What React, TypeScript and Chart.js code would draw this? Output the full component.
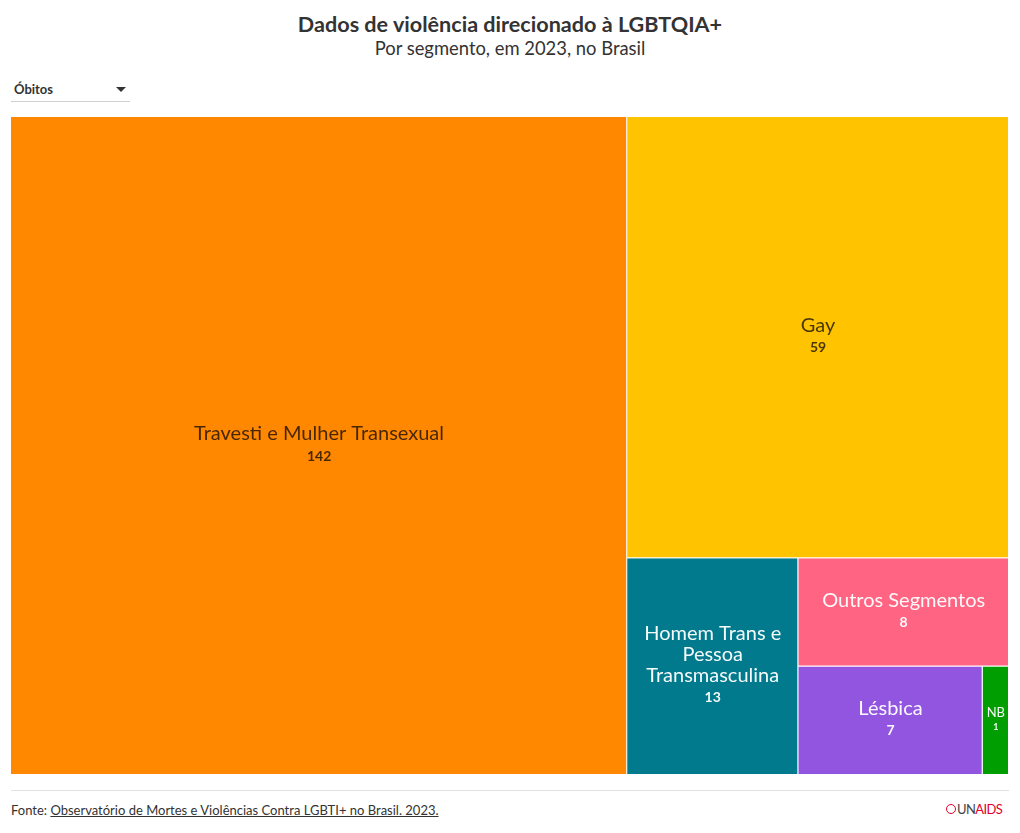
import React, { useEffect, useRef } from 'react';
import { Chart, registerables, DatasetController } from 'chart.js';

Chart.register(...registerables);

const categories: string[] = [
  'Travesti e Mulher Transexual',
  'Gay',
  'Homem Trans e Pessoa Transmasculina',
  'Outros Segmentos',
  'Lésbica',
  'NB',
];
const values: number[] = [142, 59, 13, 8, 7, 1];
const cellColors: string[] = ['#FF8800', '#FFC300', '#007A8C', '#FF6482', '#9155E0', '#009E00'];
const textColors: string[] = [
  'rgba(0,0,0,0.72)',
  'rgba(0,0,0,0.72)',
  'rgba(255,255,255,0.96)',
  'rgba(255,255,255,0.96)',
  'rgba(255,255,255,0.96)',
  'rgba(255,255,255,0.96)',
];

const FONT = 'Lato, "Noto Sans", sans-serif';

type R = { x0: number; y0: number; x1: number; y1: number };

function squarify(vals: number[], W: number, H: number): R[] {
  const total = vals.reduce((a, b) => a + b, 0);
  const k = (W * H) / total;
  const areas = vals.map((v) => v * k);
  const rects: R[] = [];
  let x = 0, y = 0, w = W, h = H, i = 0;
  const sum = (r: number[]) => r.reduce((a, b) => a + b, 0);
  while (i < areas.length) {
    const side = Math.min(w, h);
    const worst = (r: number[]) => {
      const s = sum(r);
      const mx = Math.max(...r), mn = Math.min(...r);
      return Math.max((side * side * mx) / (s * s), (s * s) / (side * side * mn));
    };
    const row = [areas[i]];
    let j = i + 1;
    while (j < areas.length && worst([...row, areas[j]]) <= worst(row)) {
      row.push(areas[j]);
      j++;
    }
    const s = sum(row);
    if (w >= h) {
      const cw = s / h;
      let cy = y;
      row.forEach((a) => {
        const rh = a / cw;
        rects.push({ x0: x, y0: cy, x1: x + cw, y1: cy + rh });
        cy += rh;
      });
      x += cw;
      w -= cw;
    } else {
      const rh = s / w;
      let cx = x;
      row.forEach((a) => {
        const rw = a / rh;
        rects.push({ x0: cx, y0: y, x1: cx + rw, y1: y + rh });
        cx += rw;
      });
      y += rh;
      h -= rh;
    }
    i = j;
  }
  return rects;
}

class TreemapController extends (DatasetController as any) {
  static id = 'treemap';
  static defaults = { datasetElementType: false, dataElementType: 'bar' };
  static overrides = {
    scales: {
      x: { type: 'linear', display: false, min: 0, max: 1 },
      y: { type: 'linear', display: false, min: 0, max: 1, reverse: true },
    },
  };
  update(mode: any) {
    const meta = this._cachedMeta;
    this.updateElements(meta.data, 0, meta.data.length, mode);
  }
  updateElements(rects: any[], start: number, count: number, mode: any) {
    const meta = this._cachedMeta;
    const xs = meta.xScale, ys = meta.yScale;
    const ca = this.chart.chartArea;
    const W = ca.right - ca.left, H = ca.bottom - ca.top;
    const data = this.getDataset().data as number[];
    const layout = squarify(data, W, H);
    for (let i = start; i < start + count; i++) {
      const r = layout[i];
      const l = xs.getPixelForValue(r.x0 / W);
      const rt = xs.getPixelForValue(r.x1 / W);
      const t = ys.getPixelForValue(r.y0 / H);
      const b = ys.getPixelForValue(r.y1 / H);
      this.updateElement(
        rects[i],
        i,
        {
          x: (l + rt) / 2,
          y: t,
          base: b,
          width: rt - l,
          height: b - t,
          horizontal: false,
          borderSkipped: {},
          inflateAmount: 0,
          options: this.resolveDataElementOptions(i, mode),
        },
        mode
      );
    }
  }
  draw() {
    const ctx = this.chart.ctx;
    this._cachedMeta.data.forEach((el: any) => el.draw(ctx));
  }
}
Chart.register(TreemapController as any);

const labelPlugin = {
  id: 'cellLabels',
  afterDatasetsDraw(chart: any) {
    const ctx: CanvasRenderingContext2D = chart.ctx;
    const meta = chart.getDatasetMeta(0);
    const labels: string[] = chart.data.labels;
    const data: number[] = chart.data.datasets[0].data;
    meta.data.forEach((el: any, i: number) => {
      const { x, y, base, width } = el.getProps(['x', 'y', 'base', 'width'], true);
      const cy = (y + base) / 2 - 1;
      const name = labels[i];
      const words = name.split(' ');
      let fs = 20;
      ctx.font = `400 ${fs}px ${FONT}`;
      const longest = Math.max(...words.map((w) => ctx.measureText(w).width));
      if (longest > width - 8) fs = Math.floor((fs * (width - 8)) / longest);
      ctx.font = `400 ${fs}px ${FONT}`;
      const maxW = width - 16;
      const lines: string[] = [];
      let cur = '';
      words.forEach((w) => {
        const test = cur ? cur + ' ' + w : w;
        if (cur && ctx.measureText(test).width > maxW) {
          lines.push(cur);
          cur = w;
        } else cur = test;
      });
      if (cur) lines.push(cur);
      const lh = fs * 1.05;
      const vOff = fs * 1.1;
      const span = (lines.length - 1) * lh + vOff;
      const ly = cy - span / 2;
      ctx.save();
      ctx.fillStyle = textColors[i];
      ctx.textAlign = 'center';
      ctx.textBaseline = 'middle';
      lines.forEach((ln, k) => {
        ctx.fillText(ln, x, ly + k * lh);
      });
      ctx.font = `700 ${Math.round(fs * 0.7)}px ${FONT}`;
      ctx.fillText(String(data[i]), x, ly + (lines.length - 1) * lh + vOff);
      ctx.restore();
    });
  },
};

export default function App() {
  const ref = useRef<HTMLCanvasElement | null>(null);
  useEffect(() => {
    if (!ref.current) return;
    const chart = new Chart(ref.current, {
      type: 'treemap' as any,
      data: {
        labels: categories,
        datasets: [
          {
            data: values,
            backgroundColor: cellColors,
            borderColor: '#ffffff',
            borderWidth: { top: 0, left: 0, right: 1, bottom: 1 },
          } as any,
        ],
      },
      options: {
        animation: false,
        responsive: false,
        layout: { padding: 0 },
        plugins: { legend: { display: false }, tooltip: { enabled: false } },
        events: [],
      } as any,
      plugins: [labelPlugin],
    });
    return () => chart.destroy();
  }, []);

  return (
    <div style={{ position: 'absolute', left: 0, top: 0, width: 1020, height: 833, background: '#fff', fontFamily: FONT, color: '#333' }}>
      <div style={{ position: 'absolute', top: 10, left: 0, width: 1020, textAlign: 'center', fontSize: 21.6, fontWeight: 700, lineHeight: '28px', color: '#333' }}>
        Dados de violência direcionado à LGBTQIA+
      </div>
      <div style={{ position: 'absolute', top: 36, left: 0, width: 1020, textAlign: 'center', fontSize: 18.4, lineHeight: '24px', color: '#333' }}>
        Por segmento, em 2023, no Brasil
      </div>
      <div style={{ position: 'absolute', top: 80, left: 14, fontSize: 13, fontWeight: 700, lineHeight: '18px', color: '#333' }}>Óbitos</div>
      <div style={{ position: 'absolute', top: 87, left: 116, width: 0, height: 0, borderLeft: '5px solid transparent', borderRight: '5px solid transparent', borderTop: '5px solid #333' }} />
      <div style={{ position: 'absolute', top: 101, left: 11, width: 119, height: 1, background: '#d0d0d0' }} />
      <div style={{ position: 'absolute', top: 117, left: 11, width: 998, height: 658 }}>
        <canvas ref={ref} width={998} height={658} style={{ display: 'block' }} />
      </div>
      <div style={{ position: 'absolute', top: 790, left: 11, width: 998, height: 1, background: '#e2e2e2' }} />
      <div style={{ position: 'absolute', top: 801, left: 11, fontSize: 13, lineHeight: '18px', color: '#333' }}>
        Fonte: <span style={{ textDecoration: 'underline' }}>Observatório de Mortes e Violências Contra LGBTI+ no Brasil. 2023.</span>
      </div>
      <div style={{ position: 'absolute', top: 800, left: 946, fontSize: 13, lineHeight: '18px', letterSpacing: -0.6, display: 'flex', alignItems: 'center' }}>
        <span style={{ display: 'inline-block', width: 10, height: 10, borderRadius: 5, border: '1.5px solid #e4002b', boxSizing: 'border-box', marginRight: 1 }} />
        <span style={{ color: '#444' }}>UN</span>
        <span style={{ color: '#e4002b' }}>AIDS</span>
      </div>
    </div>
  );
}
